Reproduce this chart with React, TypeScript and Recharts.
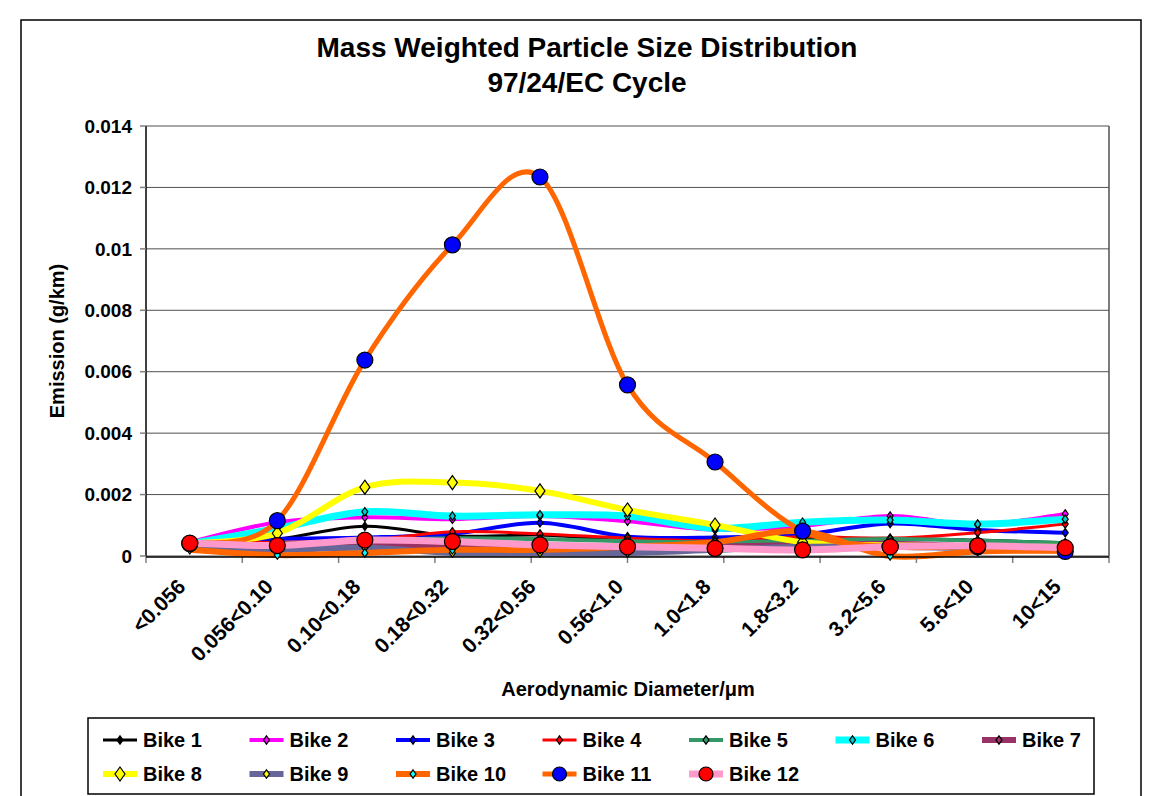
import { LineChart, Line, XAxis, YAxis, CartesianGrid } from 'recharts'

const CATEGORIES = ['<0.056', '0.056<0.10', '0.10<0.18', '0.18<0.32', '0.32<0.56', '0.56<1.0', '1.0<1.8', '1.8<3.2', '3.2<5.6', '5.6<10', '10<15']
const Y_TICKS = [0, 0.002, 0.004, 0.006, 0.008, 0.01, 0.012, 0.014]

const BIKE_1 = [0.0004, 0.00055, 0.00097, 0.00065, 0.00068, 0.0005, 0.00048, 0.00055, 0.00058, 0.00052, 0.00043]
const BIKE_2 = [0.00045, 0.0011, 0.00126, 0.0012, 0.0013, 0.00113, 0.00085, 0.00098, 0.0013, 0.00102, 0.00137]
const BIKE_3 = [0.0004, 0.00055, 0.0006, 0.00072, 0.00108, 0.00063, 0.0006, 0.0007, 0.00106, 0.00085, 0.00076]
const BIKE_4 = [0.0004, 0.00045, 0.0005, 0.00079, 0.00072, 0.00058, 0.0005, 0.00063, 0.00058, 0.00076, 0.00104]
const BIKE_5 = [0.0004, 0.0004, 0.0005, 0.00058, 0.00055, 0.00048, 0.00045, 0.0005, 0.00055, 0.0005, 0.00042]
const BIKE_6 = [0.0004, 0.0009, 0.00144, 0.0013, 0.00134, 0.0013, 0.0009, 0.0011, 0.00117, 0.00104, 0.0012]
const BIKE_7 = [0.0004, 0.0003, 0.00036, 0.0003, 0.0002, 0.00012, 0.0003, 0.00035, 0.0004, 0.0003, 0.0002]
const BIKE_8 = [0.0004, 0.00074, 0.00224, 0.00239, 0.00212, 0.0015, 0.00101, 0.00045, 0.00035, 0.0003, 0.0003]
const BIKE_9 = [0.0003, 0.0002, 0.00027, 0.0001, 0.0001, 0.0001, 0.0002, 0.0003, 0.0003, 0.00025, 0.0002]
const BIKE_10 = [0.0002, 0.00003, 0.0001, 0.0002, 0.0002, 0.0003, 0.00045, 0.0008, 0.0, 0.00015, 0.00017]
const BIKE_11 = [0.0004, 0.00115, 0.00638, 0.01013, 0.01234, 0.00557, 0.00306, 0.00081, 0.0003, 0.0003, 0.00015]
const BIKE_12 = [0.00042, 0.00034, 0.00052, 0.00047, 0.00036, 0.0003, 0.00025, 0.0002, 0.0003, 0.00033, 0.00027]

type Series = {
  key: string
  name: string
  values: number[]
  color: string
  width: number
  marker: 'diamond' | 'circle'
  markerFill: string
  markerSize: number
}

const SERIES: Series[] = [
  { key: 'b1', name: 'Bike 1', values: BIKE_1, color: '#000000', width: 3, marker: 'diamond', markerFill: '#000000', markerSize: 3 },
  { key: 'b2', name: 'Bike 2', values: BIKE_2, color: '#FF00FF', width: 4, marker: 'diamond', markerFill: '#FF00FF', markerSize: 3 },
  { key: 'b3', name: 'Bike 3', values: BIKE_3, color: '#0000FF', width: 4, marker: 'diamond', markerFill: '#0000FF', markerSize: 3 },
  { key: 'b4', name: 'Bike 4', values: BIKE_4, color: '#FF0000', width: 3, marker: 'diamond', markerFill: '#FF0000', markerSize: 3 },
  { key: 'b5', name: 'Bike 5', values: BIKE_5, color: '#339966', width: 4, marker: 'diamond', markerFill: '#339966', markerSize: 3 },
  { key: 'b6', name: 'Bike 6', values: BIKE_6, color: '#00FFFF', width: 7, marker: 'diamond', markerFill: '#00CCCC', markerSize: 3 },
  { key: 'b7', name: 'Bike 7', values: BIKE_7, color: '#993366', width: 6, marker: 'diamond', markerFill: '#993366', markerSize: 3 },
  { key: 'b8', name: 'Bike 8', values: BIKE_8, color: '#FFFF00', width: 6, marker: 'diamond', markerFill: '#FFFF00', markerSize: 5 },
  { key: 'b9', name: 'Bike 9', values: BIKE_9, color: '#666699', width: 6, marker: 'diamond', markerFill: '#FFFF00', markerSize: 3 },
  { key: 'b10', name: 'Bike 10', values: BIKE_10, color: '#FF6600', width: 6, marker: 'diamond', markerFill: '#00FFFF', markerSize: 3 },
  { key: 'b11', name: 'Bike 11', values: BIKE_11, color: '#FF6600', width: 5, marker: 'circle', markerFill: '#0000FF', markerSize: 8 },
  { key: 'b12', name: 'Bike 12', values: BIKE_12, color: '#FF99CC', width: 7, marker: 'circle', markerFill: '#FF0000', markerSize: 8 },
]

const rows = CATEGORIES.map((cat, i) => {
  const row: Record<string, string | number> = { cat }
  SERIES.forEach((s) => {
    row[s.key] = s.values[i]
  })
  return row
})

const EDGE_TICKS = CATEGORIES.map((_, i) => i).concat(CATEGORIES.length)

// smoothed line like the spreadsheet one (Catmull-Rom, can overshoot)
const smoothCurve = (context: any) => {
  let pts: number[][] = []
  return {
    areaStart() {},
    areaEnd() {},
    lineStart() {
      pts = []
    },
    point(x: number, y: number) {
      pts.push([+x, +y])
    },
    lineEnd() {
      const n = pts.length
      if (!n) return
      context.moveTo(pts[0][0], pts[0][1])
      for (let i = 0; i < n - 1; i++) {
        const p0 = pts[Math.max(0, i - 1)]
        const p1 = pts[i]
        const p2 = pts[i + 1]
        const p3 = pts[Math.min(n - 1, i + 2)]
        context.bezierCurveTo(
          p1[0] + (p2[0] - p0[0]) / 6,
          p1[1] + (p2[1] - p0[1]) / 6,
          p2[0] - (p3[0] - p1[0]) / 6,
          p2[1] - (p3[1] - p1[1]) / 6,
          p2[0],
          p2[1],
        )
      }
    },
  }
}

const FONT = '"Liberation Sans", Arial, sans-serif'

function Marker({ s, cx, cy, small }: { s: Series; cx: number; cy: number; small?: boolean }) {
  if (s.marker === 'circle') {
    return <circle cx={cx} cy={cy} r={small ? 7 : s.markerSize} fill={s.markerFill} stroke="#000" strokeWidth={1.2} />
  }
  const w = s.markerSize
  const h = s.markerSize * 1.4
  return (
    <polygon
      points={`${cx},${cy - h} ${cx + w},${cy} ${cx},${cy + h} ${cx - w},${cy}`}
      fill={s.markerFill}
      stroke="#000"
      strokeWidth={1.2}
    />
  )
}

const makeDot = (s: Series) => (p: any) => {
  if (p.cx == null || p.cy == null) return <g key={`${s.key}-${p.index}`} />
  return (
    <g key={`${s.key}-${p.index}`}>
      <Marker s={s} cx={p.cx} cy={p.cy} />
    </g>
  )
}

const CatTick = ({ x, y, payload }: any) => (
  <g transform={`translate(${x - 3},${y + 31})`}>
    <text textAnchor="end" transform="rotate(-45)" fontFamily={FONT} fontWeight="bold" fontSize={21} fill="#000">
      {payload.value}
    </text>
  </g>
)

const NoTick = () => <g />

export default function App() {
  return (
    <div style={{ position: 'absolute', left: 0, top: 0, width: 1169, height: 796, background: '#fff', overflow: 'hidden' }}>
      <LineChart width={1169} height={796} data={rows} margin={{ top: 126, right: 0, bottom: 179, left: 0 }}>
        <CartesianGrid xAxisId={1} vertical={false} stroke="#505050" strokeWidth={1} />
        {/* tick marks between categories, as the spreadsheet draws them */}
        <XAxis
          xAxisId={0}
          type="number"
          domain={[0, CATEGORIES.length]}
          ticks={EDGE_TICKS}
          tick={<NoTick />}
          tickLine={{ stroke: '#808080', strokeWidth: 1.5 }}
          tickSize={7}
          axisLine={false}
          height={1}
          allowDataOverflow
        />
        <XAxis
          xAxisId={1}
          dataKey="cat"
          scale="band"
          interval={0}
          tick={<CatTick />}
          tickLine={false}
          tickSize={0}
          tickMargin={0}
          height={60}
          axisLine={{ stroke: '#000', strokeWidth: 1.5 }}
        />
        <YAxis
          domain={[0, 0.014]}
          ticks={Y_TICKS}
          width={146}
          tickSize={6}
          tickMargin={8}
          tickLine={{ stroke: '#808080', strokeWidth: 1.5 }}
          axisLine={{ stroke: '#000', strokeWidth: 1.5 }}
          tickFormatter={(v: number) => String(v)}
          tick={{ fontFamily: FONT, fontWeight: 'bold', fontSize: 19, fill: '#000' }}
        />
        <YAxis
          yAxisId="frame"
          orientation="right"
          width={60}
          domain={[0, 1]}
          tick={false}
          tickLine={false}
          axisLine={{ stroke: '#505050', strokeWidth: 1.5 }}
        />
        {SERIES.map((s) => (
          <Line
            key={s.key}
            xAxisId={1}
            dataKey={s.key}
            name={s.name}
            type={smoothCurve as any}
            stroke={s.color}
            strokeWidth={s.width}
            dot={makeDot(s)}
            activeDot={false}
            isAnimationActive={false}
          />
        ))}
      </LineChart>
      <svg width={1169} height={796} style={{ position: 'absolute', left: 0, top: 0, pointerEvents: 'none' }}>
        <rect x={21} y={20} width={1120} height={800} fill="none" stroke="#000" strokeWidth={1.5} />
        <text x={587} y={57} textAnchor="middle" fontFamily={FONT} fontWeight="bold" fontSize={28}>
          Mass Weighted Particle Size Distribution
        </text>
        <text x={587} y={92} textAnchor="middle" fontFamily={FONT} fontWeight="bold" fontSize={28}>
          97/24/EC Cycle
        </text>
        <text
          x={0}
          y={0}
          transform="translate(64,341) rotate(-90)"
          textAnchor="middle"
          fontFamily={FONT}
          fontWeight="bold"
          fontSize={20}
        >
          Emission (g/km)
        </text>
        <text x={628} y={696} textAnchor="middle" fontFamily={FONT} fontWeight="bold" fontSize={20}>
          Aerodynamic Diameter/μm
        </text>
        <rect x={88} y={718} width={1006} height={76} fill="#fff" stroke="#000" strokeWidth={1.5} />
        {SERIES.map((s, i) => {
          const col = i % 7
          const row = Math.floor(i / 7)
          const x0 = 103 + col * 146.5
          const yc = 740 + row * 34
          return (
            <g key={s.key}>
              <line x1={x0} x2={x0 + 34} y1={yc} y2={yc} stroke={s.color} strokeWidth={s.width} />
              <Marker s={s} cx={x0 + 17} cy={yc} small />
              <text x={x0 + 40} y={yc + 7} fontFamily={FONT} fontWeight="bold" fontSize={20}>
                {s.name}
              </text>
            </g>
          )
        })}
      </svg>
    </div>
  )
}
